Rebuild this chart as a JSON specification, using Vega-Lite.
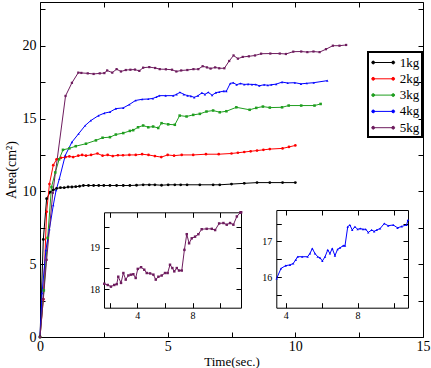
{
  "$schema": "https://vega.github.io/schema/vega-lite/v6.json",
  "width": 383,
  "height": 335,
  "autosize": {"type": "none"},
  "padding": {"left": 40, "top": 2, "right": 8, "bottom": 31},
  "background": "white",
  "config": {
    "view": {"stroke": null},
    "font": "Liberation Serif",
    "axis": {
      "domainColor": "black", "tickColor": "black", "labelColor": "black", "titleColor": "black",
      "labelFont": "Liberation Serif", "titleFont": "Liberation Serif", "titleFontWeight": "normal",
      "grid": false, "tickSize": -5, "domainWidth": 1, "tickWidth": 1,
      "labelFlush": false, "labelOverlap": false
    },
    "legend": {"labelFont": "Liberation Serif"}
  },
  "datasets": {
    "main": [
      {"s":"1kg","t":0,"a":0},{"s":"1kg","t":0.13,"a":6.7},{"s":"1kg","t":0.26,"a":9.5},{"s":"1kg","t":0.4,"a":9.95},{"s":"1kg","t":0.52,"a":10.1},{"s":"1kg","t":0.65,"a":10.2},{"s":"1kg","t":0.8,"a":10.25},{"s":"1kg","t":0.95,"a":10.25},{"s":"1kg","t":1.1,"a":10.3},{"s":"1kg","t":1.25,"a":10.3},{"s":"1kg","t":1.4,"a":10.32},{"s":"1kg","t":1.55,"a":10.35},{"s":"1kg","t":1.7,"a":10.4},{"s":"1kg","t":1.9,"a":10.4},{"s":"1kg","t":2.1,"a":10.4},{"s":"1kg","t":2.3,"a":10.4},{"s":"1kg","t":2.5,"a":10.4},{"s":"1kg","t":2.74,"a":10.4},{"s":"1kg","t":3.0,"a":10.4},{"s":"1kg","t":3.26,"a":10.4},{"s":"1kg","t":3.52,"a":10.4},{"s":"1kg","t":3.78,"a":10.42},{"s":"1kg","t":4.04,"a":10.45},{"s":"1kg","t":4.28,"a":10.45},{"s":"1kg","t":4.5,"a":10.45},{"s":"1kg","t":4.76,"a":10.42},{"s":"1kg","t":5.02,"a":10.45},{"s":"1kg","t":5.28,"a":10.45},{"s":"1kg","t":5.51,"a":10.45},{"s":"1kg","t":5.76,"a":10.45},{"s":"1kg","t":6.26,"a":10.45},{"s":"1kg","t":6.78,"a":10.45},{"s":"1kg","t":7.04,"a":10.45},{"s":"1kg","t":7.5,"a":10.5},{"s":"1kg","t":8.0,"a":10.55},{"s":"1kg","t":8.5,"a":10.6},{"s":"1kg","t":9.0,"a":10.6},{"s":"1kg","t":9.5,"a":10.6},{"s":"1kg","t":10.0,"a":10.6},
      {"s":"2kg","t":0,"a":0},{"s":"2kg","t":0.13,"a":2.6},{"s":"2kg","t":0.26,"a":8.6},{"s":"2kg","t":0.37,"a":10.5},{"s":"2kg","t":0.52,"a":11.8},{"s":"2kg","t":0.65,"a":12.2},{"s":"2kg","t":0.82,"a":12.3},{"s":"2kg","t":1.0,"a":12.35},{"s":"2kg","t":1.15,"a":12.4},{"s":"2kg","t":1.3,"a":12.35},{"s":"2kg","t":1.5,"a":12.45},{"s":"2kg","t":1.65,"a":12.5},{"s":"2kg","t":1.8,"a":12.45},{"s":"2kg","t":2.0,"a":12.5},{"s":"2kg","t":2.25,"a":12.6},{"s":"2kg","t":2.45,"a":12.45},{"s":"2kg","t":2.65,"a":12.5},{"s":"2kg","t":2.85,"a":12.42},{"s":"2kg","t":3.05,"a":12.48},{"s":"2kg","t":3.25,"a":12.48},{"s":"2kg","t":3.5,"a":12.5},{"s":"2kg","t":3.75,"a":12.5},{"s":"2kg","t":4.0,"a":12.55},{"s":"2kg","t":4.25,"a":12.5},{"s":"2kg","t":4.5,"a":12.42},{"s":"2kg","t":4.75,"a":12.35},{"s":"2kg","t":5.0,"a":12.5},{"s":"2kg","t":5.25,"a":12.45},{"s":"2kg","t":5.55,"a":12.5},{"s":"2kg","t":6.0,"a":12.5},{"s":"2kg","t":6.5,"a":12.55},{"s":"2kg","t":7.0,"a":12.55},{"s":"2kg","t":7.5,"a":12.6},{"s":"2kg","t":7.75,"a":12.65},{"s":"2kg","t":8.0,"a":12.7},{"s":"2kg","t":8.25,"a":12.75},{"s":"2kg","t":8.5,"a":12.8},{"s":"2kg","t":8.75,"a":12.85},{"s":"2kg","t":9.0,"a":12.9},{"s":"2kg","t":9.5,"a":12.95},{"s":"2kg","t":9.75,"a":13.05},{"s":"2kg","t":10.0,"a":13.15},
      {"s":"3kg","t":0,"a":0},{"s":"3kg","t":0.15,"a":3.2},{"s":"3kg","t":0.3,"a":6.8},{"s":"3kg","t":0.45,"a":10.3},{"s":"3kg","t":0.6,"a":11.3},{"s":"3kg","t":0.75,"a":12.2},{"s":"3kg","t":0.9,"a":12.85},{"s":"3kg","t":1.15,"a":12.95},{"s":"3kg","t":1.4,"a":13.1},{"s":"3kg","t":1.8,"a":13.27},{"s":"3kg","t":2.19,"a":13.5},{"s":"3kg","t":2.45,"a":13.68},{"s":"3kg","t":2.74,"a":13.72},{"s":"3kg","t":2.97,"a":13.9},{"s":"3kg","t":3.26,"a":14.0},{"s":"3kg","t":3.52,"a":14.15},{"s":"3kg","t":3.65,"a":14.2},{"s":"3kg","t":3.84,"a":14.4},{"s":"3kg","t":4.04,"a":14.52},{"s":"3kg","t":4.24,"a":14.4},{"s":"3kg","t":4.43,"a":14.45},{"s":"3kg","t":4.63,"a":14.35},{"s":"3kg","t":4.76,"a":14.68},{"s":"3kg","t":5.02,"a":14.6},{"s":"3kg","t":5.28,"a":14.57},{"s":"3kg","t":5.47,"a":15.2},{"s":"3kg","t":5.74,"a":15.14},{"s":"3kg","t":6.0,"a":15.25},{"s":"3kg","t":6.26,"a":15.32},{"s":"3kg","t":6.52,"a":15.48},{"s":"3kg","t":6.78,"a":15.55},{"s":"3kg","t":7.04,"a":15.43},{"s":"3kg","t":7.3,"a":15.5},{"s":"3kg","t":7.69,"a":15.77},{"s":"3kg","t":8.21,"a":15.6},{"s":"3kg","t":8.47,"a":15.73},{"s":"3kg","t":8.73,"a":15.82},{"s":"3kg","t":9.0,"a":15.75},{"s":"3kg","t":9.48,"a":15.77},{"s":"3kg","t":9.74,"a":15.89},{"s":"3kg","t":10.23,"a":15.89},{"s":"3kg","t":10.75,"a":15.89},{"s":"3kg","t":10.99,"a":16.0},
      {"s":"4kg","t":0,"a":0},{"s":"4kg","t":0.08,"a":3.0},{"s":"4kg","t":0.23,"a":5.96},{"s":"4kg","t":0.37,"a":7.4},{"s":"4kg","t":0.52,"a":9.04},{"s":"4kg","t":0.63,"a":10.07},{"s":"4kg","t":0.76,"a":10.87},{"s":"4kg","t":0.99,"a":12.47},{"s":"4kg","t":1.25,"a":13.38},{"s":"4kg","t":1.51,"a":13.95},{"s":"4kg","t":1.77,"a":14.52},{"s":"4kg","t":1.99,"a":14.86},{"s":"4kg","t":2.29,"a":15.2},{"s":"4kg","t":2.52,"a":15.37},{"s":"4kg","t":2.74,"a":15.45},{"s":"4kg","t":2.97,"a":15.68},{"s":"4kg","t":3.26,"a":15.73},{"s":"4kg","t":3.5,"a":15.96},{"s":"4kg","t":3.74,"a":16.24},{"s":"4kg","t":4.0,"a":16.32},{"s":"4kg","t":4.24,"a":16.34},{"s":"4kg","t":4.42,"a":16.38},{"s":"4kg","t":4.56,"a":16.48},{"s":"4kg","t":4.67,"a":16.57},{"s":"4kg","t":4.92,"a":16.57},{"s":"4kg","t":5.22,"a":16.57},{"s":"4kg","t":5.35,"a":16.66},{"s":"4kg","t":5.48,"a":16.8},{"s":"4kg","t":5.63,"a":16.66},{"s":"4kg","t":5.78,"a":16.57},{"s":"4kg","t":5.91,"a":16.54},{"s":"4kg","t":6.04,"a":16.45},{"s":"4kg","t":6.19,"a":16.57},{"s":"4kg","t":6.34,"a":16.76},{"s":"4kg","t":6.46,"a":16.66},{"s":"4kg","t":6.59,"a":16.8},{"s":"4kg","t":6.74,"a":16.6},{"s":"4kg","t":6.89,"a":16.78},{"s":"4kg","t":7.02,"a":16.82},{"s":"4kg","t":7.2,"a":16.88},{"s":"4kg","t":7.3,"a":16.88},{"s":"4kg","t":7.45,"a":17.41},{"s":"4kg","t":7.57,"a":17.46},{"s":"4kg","t":7.7,"a":17.32},{"s":"4kg","t":7.85,"a":17.41},{"s":"4kg","t":8.0,"a":17.34},{"s":"4kg","t":8.15,"a":17.36},{"s":"4kg","t":8.3,"a":17.34},{"s":"4kg","t":8.45,"a":17.34},{"s":"4kg","t":8.59,"a":17.25},{"s":"4kg","t":8.78,"a":17.32},{"s":"4kg","t":8.92,"a":17.28},{"s":"4kg","t":9.06,"a":17.32},{"s":"4kg","t":9.25,"a":17.36},{"s":"4kg","t":9.48,"a":17.5},{"s":"4kg","t":9.7,"a":17.44},{"s":"4kg","t":9.98,"a":17.46},{"s":"4kg","t":10.22,"a":17.38},{"s":"4kg","t":10.45,"a":17.42},{"s":"4kg","t":10.72,"a":17.46},{"s":"4kg","t":11.25,"a":17.6},
      {"s":"5kg","t":0,"a":0},{"s":"5kg","t":0.13,"a":2.6},{"s":"5kg","t":0.26,"a":5.3},{"s":"5kg","t":0.5,"a":9.9},{"s":"5kg","t":1.0,"a":16.55},{"s":"5kg","t":1.25,"a":17.45},{"s":"5kg","t":1.5,"a":18.15},{"s":"5kg","t":1.62,"a":18.13},{"s":"5kg","t":1.87,"a":18.1},{"s":"5kg","t":2.1,"a":18.06},{"s":"5kg","t":2.34,"a":18.1},{"s":"5kg","t":2.52,"a":18.12},{"s":"5kg","t":2.63,"a":18.3},{"s":"5kg","t":2.83,"a":18.15},{"s":"5kg","t":3.0,"a":18.39},{"s":"5kg","t":3.17,"a":18.23},{"s":"5kg","t":3.36,"a":18.33},{"s":"5kg","t":3.54,"a":18.35},{"s":"5kg","t":3.72,"a":18.36},{"s":"5kg","t":3.89,"a":18.27},{"s":"5kg","t":4.04,"a":18.49},{"s":"5kg","t":4.28,"a":18.53},{"s":"5kg","t":4.51,"a":18.47},{"s":"5kg","t":4.69,"a":18.39},{"s":"5kg","t":4.93,"a":18.38},{"s":"5kg","t":5.17,"a":18.35},{"s":"5kg","t":5.34,"a":18.23},{"s":"5kg","t":5.53,"a":18.3},{"s":"5kg","t":5.77,"a":18.33},{"s":"5kg","t":6.01,"a":18.39},{"s":"5kg","t":6.2,"a":18.39},{"s":"5kg","t":6.37,"a":18.59},{"s":"5kg","t":6.54,"a":18.51},{"s":"5kg","t":6.68,"a":18.43},{"s":"5kg","t":6.86,"a":18.51},{"s":"5kg","t":7.02,"a":18.45},{"s":"5kg","t":7.22,"a":18.45},{"s":"5kg","t":7.41,"a":18.95},{"s":"5kg","t":7.58,"a":19.33},{"s":"5kg","t":7.75,"a":19.11},{"s":"5kg","t":7.94,"a":19.23},{"s":"5kg","t":8.18,"a":19.27},{"s":"5kg","t":8.42,"a":19.33},{"s":"5kg","t":8.66,"a":19.45},{"s":"5kg","t":9.02,"a":19.46},{"s":"5kg","t":9.39,"a":19.46},{"s":"5kg","t":9.63,"a":19.43},{"s":"5kg","t":9.92,"a":19.59},{"s":"5kg","t":10.23,"a":19.6},{"s":"5kg","t":10.47,"a":19.56},{"s":"5kg","t":10.71,"a":19.6},{"s":"5kg","t":10.95,"a":19.56},{"s":"5kg","t":11.2,"a":19.76},{"s":"5kg","t":11.47,"a":20.0},{"s":"5kg","t":11.73,"a":20.0},{"s":"5kg","t":11.99,"a":20.05}
    ]
  },
  "layer": [
    {
      "data": {"name": "main"},
      "mark": {"type": "line", "strokeWidth": 1},
      "encoding": {
        "x": {"field": "t", "type": "quantitative",
              "scale": {"domain": [0, 15], "nice": false, "zero": false},
              "axis": {"orient": "bottom", "values": [0, 2.5, 5, 7.5, 10, 12.5, 15],
                       "labelExpr": "datum.value % 5 === 0 ? '' + datum.value : ''",
                       "labelFontSize": 14, "labelPadding": 7, "title": "Time(sec.)", "titleFontSize": 13, "titlePadding": 2}},
        "y": {"field": "a", "type": "quantitative",
              "scale": {"domain": [0, 23], "nice": false, "zero": false},
              "axis": {"orient": "left", "values": [0, 2.5, 5, 7.5, 10, 12.5, 15, 17.5, 20, 22.5],
                       "labelExpr": "datum.value % 5 === 0 ? '' + datum.value : ''",
                       "labelFontSize": 14, "labelPadding": 9, "title": "Area(cm²)", "titleFontSize": 14, "titlePadding": 4}},
        "color": {"field": "s", "type": "nominal",
                  "scale": {"domain": ["1kg", "2kg", "3kg", "4kg", "5kg"], "range": ["#000000", "#ff0000", "#1f9e1f", "#0000ff", "#6e1c5e"]},
                  "legend": {"orient": "none", "legendX": 328, "legendY": 50, "title": null,
                             "symbolType": "M-1.25,0H1.25M-1.43,0a0.18,0.18 0 1,0 0.36,0a0.18,0.18 0 1,0 -0.36,0M1.07,0a0.18,0.18 0 1,0 0.36,0a0.18,0.18 0 1,0 -0.36,0",
                             "symbolSize": 256, "symbolOffset": 4.7, "symbolStrokeWidth": 1,
                             "labelFont": "Liberation Serif", "labelFontSize": 13, "labelColor": "black", "labelOffset": 8,
                             "padding": 2, "rowPadding": 0.3, "strokeColor": "black",
                             "encode": {
                               "legend": {"update": {"strokeWidth": {"value": 2}}},
                               "symbols": {"update": {
                                 "fill": {"value": "transparent"},
                                 "strokeWidth": {"value": 1},
                                 "opacity": {"value": 1}
                               }}
                             }}}
      }
    },
    {
      "data": {"name": "main"},
      "transform": [{"calculate": "datum.s", "as": "marker"}],
      "mark": {"type": "point", "filled": true, "opacity": 1},
      "encoding": {
        "x": {"field": "t", "type": "quantitative",
              "scale": {"domain": [0, 15], "nice": false, "zero": false},
              "axis": {"orient": "top", "values": [0, 2.5, 5, 7.5, 10, 12.5, 15], "labels": false, "title": null}},
        "y": {"field": "a", "type": "quantitative",
              "scale": {"domain": [0, 23], "nice": false, "zero": false},
              "axis": {"orient": "right", "values": [0, 2.5, 5, 7.5, 10, 12.5, 15, 17.5, 20, 22.5], "labels": false, "title": null}},
        "color": {"field": "s", "type": "nominal",
                  "scale": {"domain": ["1kg", "2kg", "3kg", "4kg", "5kg"], "range": ["#000000", "#ff0000", "#1f9e1f", "#0000ff", "#6e1c5e"]},
                  "legend": null},
        "shape": {"field": "marker", "type": "nominal",
                  "scale": {"domain": ["1kg", "2kg", "3kg", "4kg", "5kg"], "range": ["circle", "circle", "square", "triangle-up", "square"]},
                  "legend": null},
        "size": {"field": "marker", "type": "ordinal",
                 "scale": {"domain": ["1kg", "2kg", "3kg", "4kg", "5kg"], "range": [8, 5, 8, 9, 9]},
                 "legend": null}
      }
    },
    {
      "data": {"name": "main"},
      "transform": [{"filter": "datum.s === '5kg' && datum.t >= 1.6"}],
      "mark": {"type": "line", "strokeWidth": 1, "color": "#6e1c5e", "point": {"shape": "square", "size": 6, "filled": true, "color": "#6e1c5e"}},
      "encoding": {
        "x": {"field": "t", "type": "quantitative",
              "scale": {"domain": [1.6, 11.5], "range": [64, 201], "nice": false, "zero": false, "clamp": true},
              "axis": {"orient": "bottom", "offset": -29.3, "values": [2, 4, 6, 8, 10],
                       "labelExpr": "datum.value === 4 || datum.value === 8 ? '' + datum.value : ''",
                       "labelFontSize": 10, "labelPadding": 8, "title": null}},
        "y": {"field": "a", "type": "quantitative",
              "scale": {"domain": [17.55, 19.86], "range": [305.7, 210.3], "nice": false, "zero": false, "clamp": true},
              "axis": {"orient": "left", "offset": -64, "values": [18, 18.5, 19, 19.5],
                       "labelExpr": "datum.value % 1 === 0 ? '' + datum.value : ''",
                       "labelFontSize": 10, "labelPadding": 9.5, "title": null}}
      }
    },
    {
      "data": {"name": "main"},
      "transform": [{"filter": "datum.s === '5kg' && datum.t >= 1.6"}],
      "mark": {"type": "point", "opacity": 0},
      "encoding": {
        "x": {"field": "t", "type": "quantitative",
              "scale": {"domain": [1.6, 11.5], "range": [64, 201], "nice": false, "zero": false, "clamp": true},
              "axis": {"orient": "top", "offset": -210.3, "values": [2, 4, 6, 8, 10], "labels": false, "title": null}},
        "y": {"field": "a", "type": "quantitative",
              "scale": {"domain": [17.55, 19.86], "range": [305.7, 210.3], "nice": false, "zero": false, "clamp": true},
              "axis": {"orient": "right", "offset": -182, "values": [18, 18.5, 19, 19.5], "labels": false, "title": null}}
      }
    },
    {
      "data": {"name": "main"},
      "transform": [{"filter": "datum.s === '4kg' && datum.t >= 3.5"}],
      "mark": {"type": "line", "strokeWidth": 1, "color": "#0000ff", "point": {"shape": "triangle-up", "size": 6, "filled": true, "color": "#0000ff"}},
      "encoding": {
        "x": {"field": "t", "type": "quantitative",
              "scale": {"domain": [3.48, 10.8], "range": [236.3, 368], "nice": false, "zero": false, "clamp": true},
              "axis": {"orient": "bottom", "offset": -29.3, "values": [4, 6, 8, 10],
                       "labelExpr": "datum.value === 4 || datum.value === 8 ? '' + datum.value : ''",
                       "labelFontSize": 10, "labelPadding": 8, "title": null}},
        "y": {"field": "a", "type": "quantitative",
              "scale": {"domain": [15.14, 17.88], "range": [305.7, 208], "nice": false, "zero": false, "clamp": true},
              "axis": {"orient": "left", "offset": -236.3, "values": [15.5, 16, 16.5, 17, 17.5],
                       "labelExpr": "datum.value % 1 === 0 ? '' + datum.value : ''",
                       "labelFontSize": 10, "labelPadding": 9.5, "title": null}}
      }
    },
    {
      "data": {"name": "main"},
      "transform": [{"filter": "datum.s === '4kg' && datum.t >= 3.5"}],
      "mark": {"type": "point", "opacity": 0},
      "encoding": {
        "x": {"field": "t", "type": "quantitative",
              "scale": {"domain": [3.48, 10.8], "range": [236.3, 368], "nice": false, "zero": false, "clamp": true},
              "axis": {"orient": "top", "offset": -208, "values": [4, 6, 8, 10], "labels": false, "title": null}},
        "y": {"field": "a", "type": "quantitative",
              "scale": {"domain": [15.14, 17.88], "range": [305.7, 208], "nice": false, "zero": false, "clamp": true},
              "axis": {"orient": "right", "offset": -15, "values": [15.5, 16, 16.5, 17, 17.5], "labels": false, "title": null}}
      }
    }
  ],
  "resolve": {
    "scale": {"x": "independent", "y": "independent", "color": "shared", "shape": "independent", "size": "independent"},
    "axis": {"x": "independent", "y": "independent"}
  }
}
